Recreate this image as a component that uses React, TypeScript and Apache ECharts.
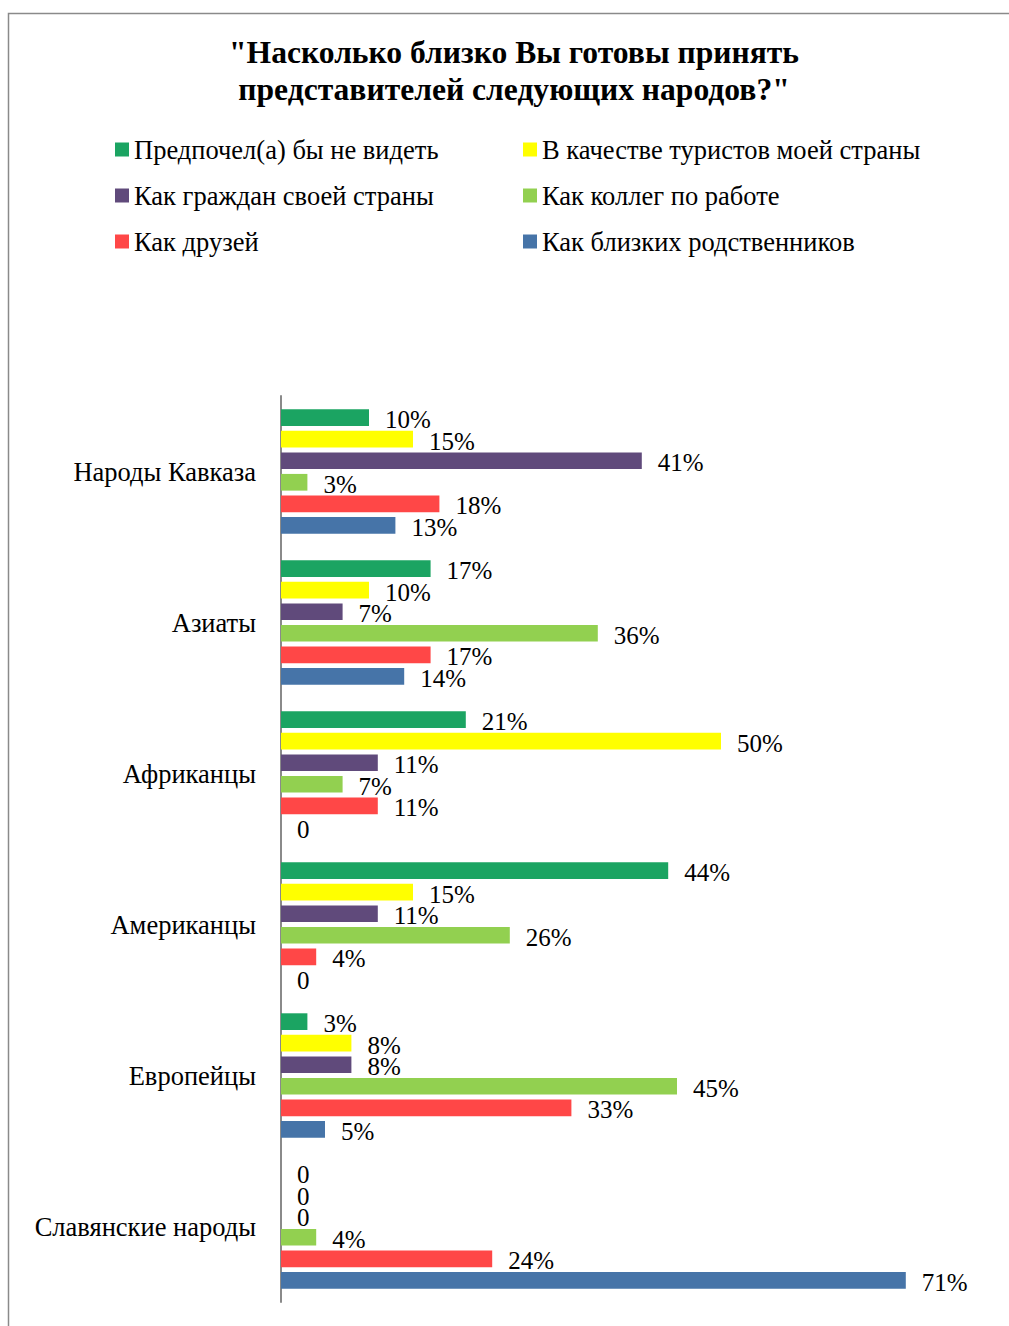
import React, { useEffect, useRef } from "react";
import * as echarts from "echarts";

const categories = [
  "Народы Кавказа",
  "Азиаты",
  "Африканцы",
  "Американцы",
  "Европейцы",
  "Славянские народы",
];

const seriesNames = [
  "Предпочел(а) бы не видеть",
  "В качестве туристов моей страны",
  "Как граждан своей страны",
  "Как коллег по работе",
  "Как друзей",
  "Как близких родственников",
];

const seriesColors = ["#1BA462", "#FFFF00", "#604A7B", "#92D050", "#FF4747", "#4674A8"];

const notSeeValues = [10, 17, 21, 44, 3, 0];
const touristValues = [15, 10, 50, 15, 8, 0];
const citizenValues = [41, 7, 11, 11, 8, 0];
const colleagueValues = [3, 36, 7, 26, 45, 4];
const friendValues = [18, 17, 11, 4, 33, 24];
const relativeValues = [13, 14, 0, 0, 5, 71];

const seriesValues = [
  notSeeValues,
  touristValues,
  citizenValues,
  colleagueValues,
  friendValues,
  relativeValues,
];

const FONT = "'Liberation Serif', 'Times New Roman', serif";

export default function App() {
  const ref = useRef<HTMLDivElement>(null);

  useEffect(() => {
    if (!ref.current) return;
    const chart = echarts.init(ref.current, null, { renderer: "svg" });
    chart.setOption({
      animation: false,
      backgroundColor: "#ffffff",
      title: {
        text: '"Насколько близко Вы готовы принять\nпредставителей следующих народов?"',
        left: 509,
        top: 29,
        textAlign: "center",
        textStyle: {
          fontFamily: FONT,
          fontSize: 31.6,
          fontWeight: "bold",
          color: "#000",
          lineHeight: 37,
        },
      },
      graphic: [
        {
          type: "rect",
          shape: { x: 8.5, y: 13.5, width: 1100, height: 1400 },
          style: { fill: "none", stroke: "#8a8a8a", lineWidth: 1.5 },
          silent: true,
          z: -10,
        },
      ],
      legend: [
        {
          orient: "vertical",
          left: 110,
          top: 131,
          itemWidth: 14,
          itemHeight: 14,
          itemGap: 19,
          icon: "rect",
          data: [seriesNames[0], seriesNames[2], seriesNames[4]],
          textStyle: { fontFamily: FONT, fontSize: 26.5, color: "#000" },
          selectedMode: false,
        },
        {
          orient: "vertical",
          left: 518,
          top: 131,
          itemWidth: 14,
          itemHeight: 14,
          itemGap: 19,
          icon: "rect",
          data: [seriesNames[1], seriesNames[3], seriesNames[5]],
          textStyle: { fontFamily: FONT, fontSize: 26.5, color: "#000" },
          selectedMode: false,
        },
      ],
      grid: { left: 281, top: 396, width: 704, height: 906, containLabel: false },
      xAxis: {
        type: "value",
        min: 0,
        max: 80,
        show: false,
      },
      yAxis: {
        type: "category",
        data: categories,
        inverse: true,
        axisLine: { show: true, lineStyle: { color: "#8a8a8a", width: 2 } },
        axisTick: { show: false },
        axisLabel: {
          fontFamily: FONT,
          fontSize: 26.5,
          color: "#000",
          margin: 25,
        },
      },
      series: seriesNames.map((name, i) => ({
        name,
        type: "bar",
        data: seriesValues[i],
        barWidth: 16.7,
        barGap: "29%",
        itemStyle: { color: seriesColors[i] },
        label: {
          show: true,
          position: "right",
          distance: 16,
          offset: [0, 2],
          fontFamily: FONT,
          fontSize: 25,
          color: "#000",
          formatter: (p: any) => (p.value === 0 ? "0" : p.value + "%"),
        },
      })),
    });
    return () => chart.dispose();
  }, []);

  return (
    <div
      ref={ref}
      style={{ position: "absolute", left: 0, top: 0, width: 1009, height: 1326 }}
    />
  );
}
